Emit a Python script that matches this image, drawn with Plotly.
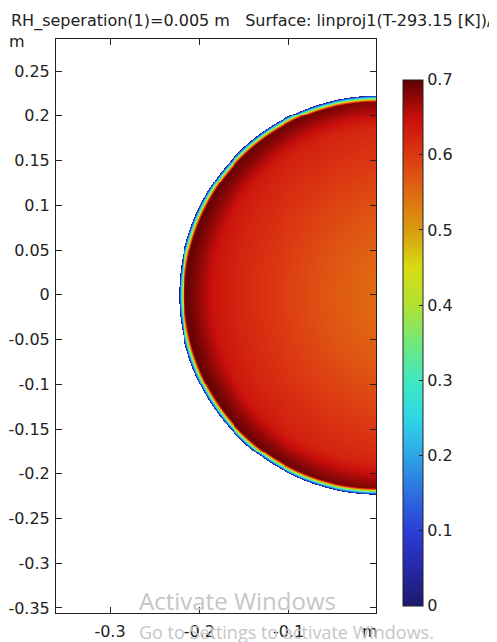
"""
COMSOL-style surface plot: relative value over a half disc, with rainbow colour bar.
"""

import numpy as np
import plotly.graph_objects as go

# --- data ------------------------------------------------------------------
# interior field vs distance from the warm spot (m -> value)
CORE_D = [0.0, 0.05, 0.10, 0.15, 0.20, 0.23, 0.26]
CORE_V = [0.545, 0.552, 0.572, 0.598, 0.625, 0.648, 0.66]
HOT_X, HOT_Y = 0.04, 0.0

# darker band just inside the rim (radius from origin -> added value)
BAND_R = [0.0, 0.185, 0.205, 0.214]
BAND_V = [0.0, 0.0, 0.03, 0.04]

# thin rim where the value drops to zero (radius -> fraction kept)
RIM_R = [0.0, 0.2158, 0.2172, 0.2186, 0.2200, 0.2214, 0.2228]
RIM_F = [1.0, 1.0, 0.82, 0.62, 0.42, 0.22, 0.0]
DISC_R = 0.2228

CBAR_TICKS = [0, 0.1, 0.2, 0.3, 0.4, 0.5, 0.6, 0.7]
X_TICKS = [-0.3, -0.2, -0.1]
X_TICK_TEXT = ["-0.3", "-0.2", "-0.1"]
Y_TICKS = [0.25, 0.2, 0.15, 0.1, 0.05, 0, -0.05, -0.1, -0.15, -0.2, -0.25, -0.3, -0.35]
Y_TICK_TEXT = ["0.25", "0.2", "0.15", "0.1", "0.05", "0", "-0.05", "-0.1",
               "-0.15", "-0.2", "-0.25", "-0.3", "-0.35"]

TITLE = ("RH_seperation(1)=0.005 m\u00a0\u00a0\u00a0Surface: "
         "linproj1(T-293.15 [K])/(")

# COMSOL "Rainbow" colour table
RAINBOW = [
    [0.000, "#1c1a6c"],
    [0.071, "#2727a8"],
    [0.143, "#2a3ed6"],
    [0.214, "#2e6fe0"],
    [0.286, "#2ea6e6"],
    [0.357, "#30d6e6"],
    [0.429, "#3fe8c0"],
    [0.500, "#72e87a"],
    [0.571, "#b0e234"],
    [0.643, "#d8dc12"],
    [0.714, "#d89c10"],
    [0.786, "#e06a12"],
    [0.857, "#dc3812"],
    [0.929, "#c80e0c"],
    [1.000, "#5c0202"],
]

FONT = "DejaVu Sans"
INK = "#222"

# the page body adds an 8 px offset, so the figure is shrunk and shifted
OFF = 8
W, H = 497 - OFF, 642 - OFF

# plot-area box in window pixels
PL, PR, PT, PB = 56.0, 375.7, 39.3, 613.3
PW, PH = PR - PL, PB - PT


def px(x):
    return (x - PL) / PW


def py(y):
    return (PB - y) / PH


# --- field on a fine grid over the half disc -------------------------------
step = 0.0011
xs = np.arange(-DISC_R - 0.002, 0.0 + step / 2, step)
ys = np.arange(-DISC_R - 0.002, DISC_R + 0.002 + step / 2, step)
X, Y = np.meshgrid(xs, ys)
R = np.hypot(X, Y)
D = np.hypot(X - HOT_X, Y - HOT_Y)

Z = np.interp(D, CORE_D, CORE_V) + np.interp(R, BAND_R, BAND_V)
Z = np.minimum(Z, 0.694) * np.interp(R, RIM_R, RIM_F)
Z[R > DISC_R] = np.nan

fig = go.Figure()
fig.add_trace(
    go.Heatmap(
        x=xs,
        y=ys,
        z=Z,
        zmin=0,
        zmax=0.7,
        colorscale=RAINBOW,
        zsmooth=False,
        hoverongaps=False,
        colorbar=dict(
            x=px(403),
            xanchor="left",
            xpad=0,
            y=py(343),
            yanchor="middle",
            ypad=0,
            len=526,
            lenmode="pixels",
            thickness=20,
            thicknessmode="pixels",
            outlinecolor=INK,
            outlinewidth=1,
            tickvals=CBAR_TICKS,
            ticktext=[f"{v:g}" for v in CBAR_TICKS],
            ticks="inside",
            ticklen=4,
            tickcolor=INK,
            tickfont=dict(family=FONT, size=16, color=INK),
        ),
    )
)

_ax = dict(
    showgrid=False,
    zeroline=False,
    showline=True,
    linecolor=INK,
    linewidth=1,
    mirror="allticks",
    ticks="inside",
    ticklen=6,
    tickcolor=INK,
    automargin=False,
    tickfont=dict(family=FONT, size=16, color=INK),
)
fig.update_xaxes(range=[-0.3605, -0.002], tickvals=X_TICKS, ticktext=X_TICK_TEXT,
                 ticklabelstandoff=4, **_ax)
fig.update_yaxes(range=[-0.3556, 0.2858], tickvals=Y_TICKS, ticktext=Y_TICK_TEXT,
                 ticklabelstandoff=2, **_ax)

# title and unit labels in COMSOL style
fig.add_annotation(xref="paper", yref="paper", x=px(10), y=py(21.7), text=TITLE,
                   showarrow=False, xanchor="left", yanchor="middle", borderpad=0,
                   font=dict(family=FONT, size=16, color=INK))
fig.add_annotation(xref="paper", yref="paper", x=px(370), y=py(632),
                   text="m", showarrow=False, xanchor="center", yanchor="middle",
                   font=dict(family=FONT, size=16, color=INK))
fig.add_annotation(xref="paper", yref="paper", x=px(8), y=py(42),
                   text="m", showarrow=False, xanchor="left", yanchor="middle",
                   borderpad=0, font=dict(family=FONT, size=16, color=INK))

# screen watermark visible in the capture
fig.add_annotation(xref="paper", yref="paper", x=px(137), y=py(601),
                   text="Activate Windows", showarrow=False, xanchor="left", yanchor="middle",
                   font=dict(family="Open Sans", size=24, color="#c6c6c6"))
fig.add_annotation(xref="paper", yref="paper", x=px(137), y=py(632),
                   text="Go to Settings to activate Windows.", showarrow=False,
                   xanchor="left", yanchor="middle",
                   font=dict(family="Open Sans", size=18, color="#c6c6c6"))

fig.update_layout(
    width=W,
    height=H,
    plot_bgcolor="white",
    paper_bgcolor="white",
    margin=dict(l=PL - OFF, r=W - (PR - OFF), t=PT - OFF, b=H - (PB - OFF),
                pad=0, autoexpand=False),
    showlegend=False,
)

fig.write_html("out.html")
